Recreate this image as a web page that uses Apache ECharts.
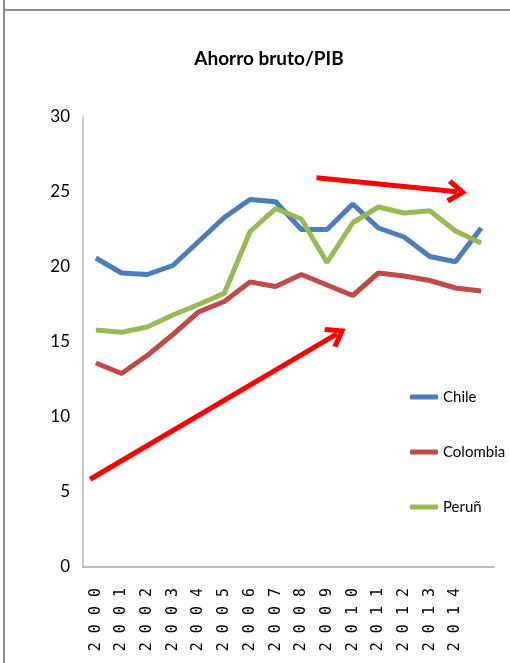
<!DOCTYPE html>
<html>
<head>
<meta charset="utf-8">
<script src="https://cdn.jsdelivr.net/npm/echarts@6/dist/echarts.min.js"></script>
<style>
html,body{margin:0;padding:0;background:#fff;}
#chart{width:510px;height:663px;}
</style>
</head>
<body>
<div id="chart"></div>
<script>
var years = ['2000','2001','2002','2003','2004','2005','2006','2007','2008','2009','2010','2011','2012','2013','2014','2015'];
var chile    = [20.6,19.6,19.5,20.1,21.7,23.3,24.5,24.35,22.5,22.5,24.2,22.6,22.0,20.7,20.35,22.6];
var colombia = [13.6,12.9,14.1,15.5,17.0,17.7,19.0,18.7,19.5,18.8,18.1,19.6,19.4,19.1,18.6,18.4];
var peru     = [15.8,15.65,16.0,16.8,17.5,18.25,22.35,23.9,23.2,20.3,22.95,24.0,23.6,23.75,22.4,21.6];
var yTicks = [0,5,10,15,20,25,30];
// annotation arrows: [xIndex, value] start and end
var arrowUp   = [[-0.22,5.85],[9.39,15.54]];
var arrowDown = [[8.59,25.95],[14.06,25.01]];

var narrow = "Lato,'DejaVu Sans Condensed',sans-serif";
var chart = echarts.init(document.getElementById('chart'), null, {renderer:'canvas'});
var chevron = 'path://M12,0 L24,17 L20,20.5 L12,8.5 L4,20.5 L0,17 Z';

chart.setOption({
  animation:false,
  backgroundColor:'#fff',
  title:{
    text:'Ahorro bruto/PIB',
    left:264, textAlign:'center', top:44,
    textStyle:{fontFamily:narrow,fontSize:19,fontWeight:'bold',color:'#000'}
  },
  legend:{
    orient:'vertical', left:405, top:383,
    data:['Chile','Colombia','Peruñ'],
    icon:'roundRect', itemWidth:28, itemHeight:5, itemGap:37,
    textStyle:{fontFamily:narrow,fontSize:15,color:'#000',lineHeight:18}
  },
  grid:{left:83,right:16,top:117,bottom:96,containLabel:false},
  xAxis:[{
    type:'category', data:years, boundaryGap:true,
    axisLine:{lineStyle:{color:'#a6a6a6',width:1.5}},
    axisTick:{show:false},
    axisLabel:{
      rotate:90, margin:21, color:'#000',
      fontFamily:"'DejaVu Sans Mono',monospace", fontSize:15,
      interval:function(i){return i<15;},
      formatter:function(v){return v.split('').join(' ');}
    },
    splitLine:{show:false}
  },{
    type:'value', min:-0.5, max:15.5, show:false
  }],
  yAxis:{
    type:'value', min:0, max:30, interval:5,
    axisLine:{show:true,onZero:false,lineStyle:{color:'#bfbfbf',width:1.5}},
    axisTick:{show:false},
    splitLine:{show:false},
    axisLabel:{margin:13,color:'#000',fontFamily:narrow,fontSize:17,
      formatter:function(v){return yTicks.indexOf(v)>=0?String(v):'';}}
  },
  series:[
    {name:'Chile',type:'line',data:chile,symbol:'none',lineStyle:{width:5,color:'#4a7ebb'},itemStyle:{color:'#4a7ebb'}},
    {name:'Colombia',type:'line',data:colombia,symbol:'none',lineStyle:{width:5,color:'#be4b48'},itemStyle:{color:'#be4b48'}},
    {name:'Peruñ',type:'line',data:peru,symbol:'none',lineStyle:{width:5,color:'#98b954'},itemStyle:{color:'#98b954'}},
    {name:'arrows',type:'line',xAxisIndex:1,data:[],symbol:'none',silent:true,
      markLine:{
        silent:true, animation:false,
        symbol:['none',chevron], symbolSize:[24,20],
        label:{show:false},
        lineStyle:{color:'#ff0000',width:5,type:'solid'},
        data:[
          [{coord:arrowUp[0]},{coord:arrowUp[1]}],
          [{coord:arrowDown[0]},{coord:arrowDown[1]}]
        ]
      }
    }
  ],
  graphic:[
    {type:'line',shape:{x1:4,y1:0,x2:4,y2:663},style:{stroke:'#8c8c8c',lineWidth:2}},
    {type:'line',shape:{x1:5,y1:10,x2:510,y2:10},style:{stroke:'#8c8c8c',lineWidth:2}}
  ]
});
</script>
</body>
</html>
